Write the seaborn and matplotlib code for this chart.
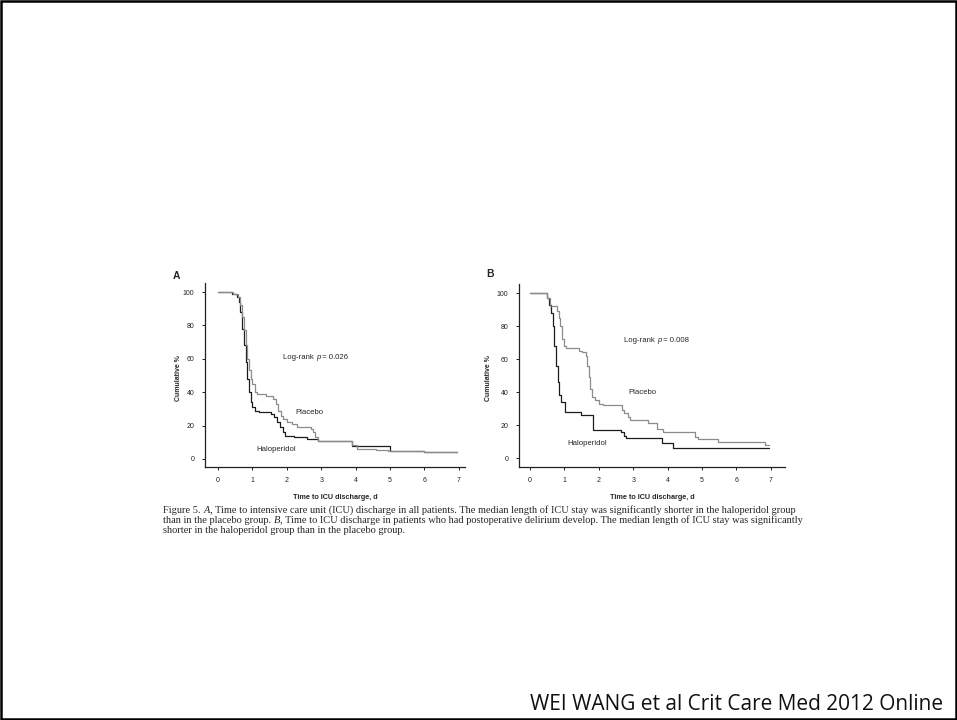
import matplotlib
matplotlib.use("Agg")
import matplotlib.pyplot as plt
import seaborn as sns
import pandas as pd
from matplotlib.text import Annotation
from matplotlib.patches import Rectangle

# ---------------- data ----------------
groups = ["Haloperidol", "Placebo"]

a_halo_t = [0, 0.40, 0.55, 0.60, 0.65, 0.70, 0.75, 0.80, 0.85, 0.90, 0.95, 1.00, 1.07, 1.20,
            1.55, 1.62, 1.72, 1.80, 1.88, 1.95, 2.20, 2.60, 2.90, 3.10, 3.90, 5.00, 6.00, 6.95]
a_halo_v = [100, 99, 97, 94, 88, 78, 68, 58, 48, 40, 34, 31, 29, 28,
            27, 25, 22, 19, 16, 14, 13, 12, 11, 10.5, 8, 5, 4.4, 4.4]

a_plac_t = [0, 0.45, 0.58, 0.65, 0.70, 0.75, 0.80, 0.85, 0.90, 0.95, 1.00, 1.07, 1.12, 1.40,
            1.60, 1.70, 1.75, 1.82, 1.90, 2.00, 2.15, 2.30, 2.70, 2.75, 2.82, 2.90, 3.00,
            3.90, 4.05, 4.60, 4.95, 6.00, 6.95]
a_plac_v = [100, 99, 97, 92, 85, 77, 68, 60, 53, 48, 45, 40, 39, 38,
            36, 33, 29, 26, 24, 22, 21, 19, 18, 16, 13, 11, 10.5,
            8.5, 6, 5.5, 5, 4.4, 4.4]

b_halo_t = [0, 0.48, 0.55, 0.62, 0.66, 0.70, 0.75, 0.80, 0.85, 0.90, 1.02, 1.47, 1.82,
            2.63, 2.72, 2.80, 3.83, 4.15, 6.95]
b_halo_v = [100, 97, 93, 88, 80, 68, 56, 46, 38, 34, 28, 26, 17,
            15.5, 13.5, 12, 9, 6, 6]

b_plac_t = [0, 0.50, 0.58, 0.78, 0.83, 0.88, 0.93, 0.98, 1.05, 1.42, 1.52, 1.62, 1.67, 1.70,
            1.74, 1.80, 1.90, 2.00, 2.13, 2.66, 2.72, 2.85, 2.90, 3.44, 3.68, 3.87, 4.79,
            4.89, 5.47, 6.83, 6.95]
b_plac_v = [100, 97, 92, 89, 85, 80, 72, 68, 67, 65, 64, 62, 56, 49,
            42, 37, 35, 33, 32, 29, 27, 25, 23, 21.4, 17.4, 16, 13,
            11.5, 10, 8, 8]

x_ticks = [0, 1, 2, 3, 4, 5, 6, 7]
y_ticks = [0, 20, 40, 60, 80, 100]
a_ytick_labels = ["0", "20", "40", "60", "80", "100"]
b_ytick_labels = ["0", "20", "40", "60", "80", "100"]

x_label = "Time to ICU discharge, d"
y_label = "Cumulative %"
a_p = "0.026"
b_p = "0.008"

caption_lines = [
    [("Figure 5. ", "normal"), ("A", "italic"),
     (", Time to intensive care unit (ICU) discharge in all patients. The median length of ICU stay was significantly shorter in the haloperidol group", "normal")],
    [("than in the placebo group. ", "normal"), ("B", "italic"),
     (", Time to ICU discharge in patients who had postoperative delirium develop. The median length of ICU stay was significantly", "normal")],
    [("shorter in the haloperidol group than in the placebo group.", "normal")],
]
credit = "WEI WANG et al Crit Care Med 2012 Online"

# ---------------- style ----------------
sns.set_style("ticks")
plt.rcParams["font.family"] = ["Liberation Sans", "DejaVu Sans"]

W, H = 957, 720
fig = plt.figure(figsize=(W / 100, H / 100), dpi=100)
fig.patch.set_facecolor("white")

def fr(x0, y0, x1, y1):
    return [x0 / W, 1 - y1 / H, (x1 - x0) / W, (y1 - y0) / H]

palette = {"Haloperidol": "#1c1c1c", "Placebo": "#8c8c8c"}

def make_df(ht, hv, pt, pv):
    rows = []
    for t, v in zip(ht, hv):
        rows.append({"t": t, "v": v, "group": groups[0]})
    for t, v in zip(pt, pv):
        rows.append({"t": t, "v": v, "group": groups[1]})
    return pd.DataFrame(rows)

def chain(artist_first, pieces, fontsize, family, va="bottom"):
    prev = artist_first
    for s, style in pieces:
        a = Annotation(s, xy=(1, 0 if va == "bottom" else 0.5), xycoords=prev,
                       ha="left", va=va, fontsize=fontsize, family=family,
                       fontstyle=style, annotation_clip=False)
        fig.add_artist(a)
        prev = a
    return prev

def panel(rect, df, xlim, ylim, ylabels, pval, lr_pos, plac_pos, halo_pos, letter, letter_pos, ylab_x):
    ax = fig.add_axes(rect)
    sns.lineplot(data=df, x="t", y="v", hue="group", palette=palette,
                 drawstyle="steps-post", estimator=None, legend=False,
                 linewidth=0.9, ax=ax)
    ax.set_xlim(*xlim)
    ax.set_ylim(*ylim)
    ax.set_xticks(x_ticks)
    ax.set_xticklabels([str(x) for x in x_ticks])
    ax.set_yticks(y_ticks)
    ax.set_yticklabels(ylabels)
    ax.tick_params(axis="both", labelsize=5, length=2.5, width=0.7, pad=5, colors="#222222")
    for sp in ["top", "right"]:
        ax.spines[sp].set_visible(False)
    for sp in ["left", "bottom"]:
        ax.spines[sp].set_linewidth(0.9)
        ax.spines[sp].set_color("#222222")
    ax.set_xlabel(x_label, fontsize=5.2, fontweight="bold", labelpad=7)
    ax.set_ylabel("")
    fig.text(ylab_x / W, 1 - 378 / H, y_label, rotation=90, fontsize=5, fontweight="bold",
             ha="center", va="center")
    t0 = ax.text(lr_pos[0], lr_pos[1], "Log-rank ", fontsize=5.6, va="center", ha="left")
    chain(t0, [("p", "italic"), (" = " + pval, "normal")], 5.6, ["Liberation Sans"], va="center")
    ax.text(plac_pos[0], plac_pos[1], "Placebo", fontsize=5.6, va="center", ha="left")
    ax.text(halo_pos[0], halo_pos[1], "Haloperidol", fontsize=5.6, va="center", ha="left")
    fig.text(letter_pos[0] / W, 1 - letter_pos[1] / H, letter, fontsize=7.5, fontweight="bold",
             ha="left", va="center")
    return ax

dfA = make_df(a_halo_t, a_halo_v, a_plac_t, a_plac_v)
dfB = make_df(b_halo_t, b_halo_v, b_plac_t, b_plac_v)

panel(fr(205, 283, 465, 467), dfA, (-0.378, 7.18), (-4.8, 105.4), a_ytick_labels, a_p,
      (1.89, 60.5), (2.24, 27.7), (1.12, 5.8), "A", (173, 276), 178)
panel(fr(519, 284, 785, 467), dfB, (-0.32, 7.41), (-5.45, 105.5), b_ytick_labels, b_p,
      (2.73, 71.1), (2.86, 39.8), (1.08, 8.9), "B", (486, 274), 489)

# caption
cap_y = [515, 525, 535]
for pieces, y in zip(caption_lines, cap_y):
    s0, st0 = pieces[0]
    t = fig.text(163 / W, 1 - y / H, s0, fontsize=7.45, family=["Liberation Serif"],
                 fontstyle=st0, ha="left", va="bottom")
    if len(pieces) > 1:
        chain(t, pieces[1:], 7.45, ["Liberation Serif"], va="bottom")

fig.text(943 / W, 1 - 710 / H, credit, fontsize=15, family=["Open Sans", "DejaVu Sans"],
         ha="right", va="baseline", color="#111111")

fig.add_artist(Rectangle((0.001, 0.001), 0.998, 0.997, transform=fig.transFigure,
                         fill=False, edgecolor="black", linewidth=1.8))

fig.savefig("out.png", dpi=100)
